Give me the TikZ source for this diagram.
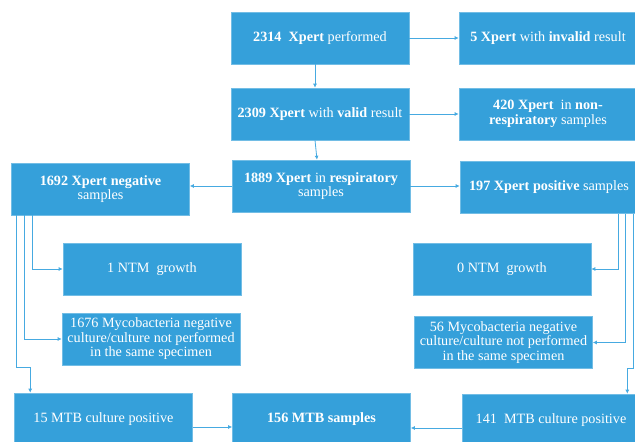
\documentclass[tikz,border=0pt]{standalone}
\usepackage{fontspec}
\setmainfont{Liberation Serif}
\usetikzlibrary{arrows.meta}
\definecolor{boxblue}{RGB}{53,160,218}
\definecolor{lineblue}{RGB}{70,170,225}
\tikzset{
  flowbox/.style={fill=boxblue,draw=boxblue!70!white,line width=0.6pt,text=white,
    minimum width=178pt,minimum height=52pt,inner sep=2pt,align=center,
    font=\rmfamily\fontsize{14.2}{14.5}\selectfont},
  flowarrow/.style={draw=lineblue,line width=0.8pt,-{Latex[length=4pt,width=4pt]}}
}
\begin{document}
\begin{tikzpicture}[x=1pt,y=-1pt]
\useasboundingbox (0,0) rectangle (635,442);
% upper boxes
\node[flowbox] (performed) at (320,38) {\textbf{2314\ \ Xpert} performed};
\node[flowbox] (invalid) at (548,38) {\textbf{5 Xpert} with \textbf{invalid} result};
\node[flowbox] (valid) at (320,114) {\textbf{2309 Xpert} with \textbf{valid} result};
\node[flowbox] (nonresp) at (548,114) {\textbf{420 Xpert}\ \ in \textbf{non-}\\\textbf{respiratory} samples};
\node[flowbox] (resp) at (321,186) {\textbf{1889 Xpert} in \textbf{respiratory}\\samples};
\node[flowbox] (neg) at (100.5,189) {\textbf{1692 Xpert negative}\\samples};
\node[flowbox] (pos) at (549,187.5) {\textbf{197 Xpert positive} samples};
% middle boxes
\node[flowbox] (ntmone) at (152,269) {1 NTM\ \ growth};
\node[flowbox] (mycneg) at (151,339) {1676 Mycobacteria negative\\culture/culture not performed\\in the same specimen};
\node[flowbox] (ntmzero) at (502,269) {0 NTM\ \ growth};
\node[flowbox] (mycpos) at (503.5,342.5) {56 Mycobacteria negative\\culture/culture not performed\\in the same specimen};
% lower boxes
\node[flowbox] (mtbneg) at (103.5,419) {15 MTB culture positive};
\node[flowbox] (mtball) at (321.5,419) {\textbf{156 MTB samples}};
\node[flowbox] (mtbpos) at (551,420) {141\ \ MTB culture positive};
% connectors
\draw[flowarrow] ([xshift=-5pt]performed.south) -- ([xshift=-5pt]valid.north);
\draw[flowarrow] (performed.east) -- (invalid.west);
\draw[flowarrow] (valid.east) -- (nonresp.west);
\draw[flowarrow] ([xshift=-5pt]valid.south) -- ([xshift=-4pt]resp.north);
\draw[flowarrow] (resp.west) -- (resp.west -| neg.east);
\draw[flowarrow] (resp.east) -- (resp.east -| pos.west);
\draw[flowarrow] ([xshift=21pt]neg.south west) |- (ntmone.west);
\draw[flowarrow] ([xshift=13pt]neg.south west) |- (mycneg.west);
\draw[flowarrow] ([xshift=5pt]neg.south west) -- ++(0,152) -| ([xshift=16pt]mtbneg.north west);
\draw[flowarrow] ([xshift=-20pt]pos.south east) |- (ntmzero.east);
\draw[flowarrow] ([xshift=-13pt]pos.south east) |- (mycpos.east);
\draw[flowarrow] ([xshift=-5pt]pos.south east) -- ++(0,155) -| ([xshift=-13pt]mtbpos.north east);
\draw[flowarrow] ([yshift=-8pt]mtbneg.east) -- ([yshift=-8pt]mtbneg.east -| mtball.west);
\draw[flowarrow] ([yshift=-8pt]mtbpos.west) -- ([yshift=-8pt]mtbpos.west -| mtball.east);
\end{tikzpicture}
\end{document}
